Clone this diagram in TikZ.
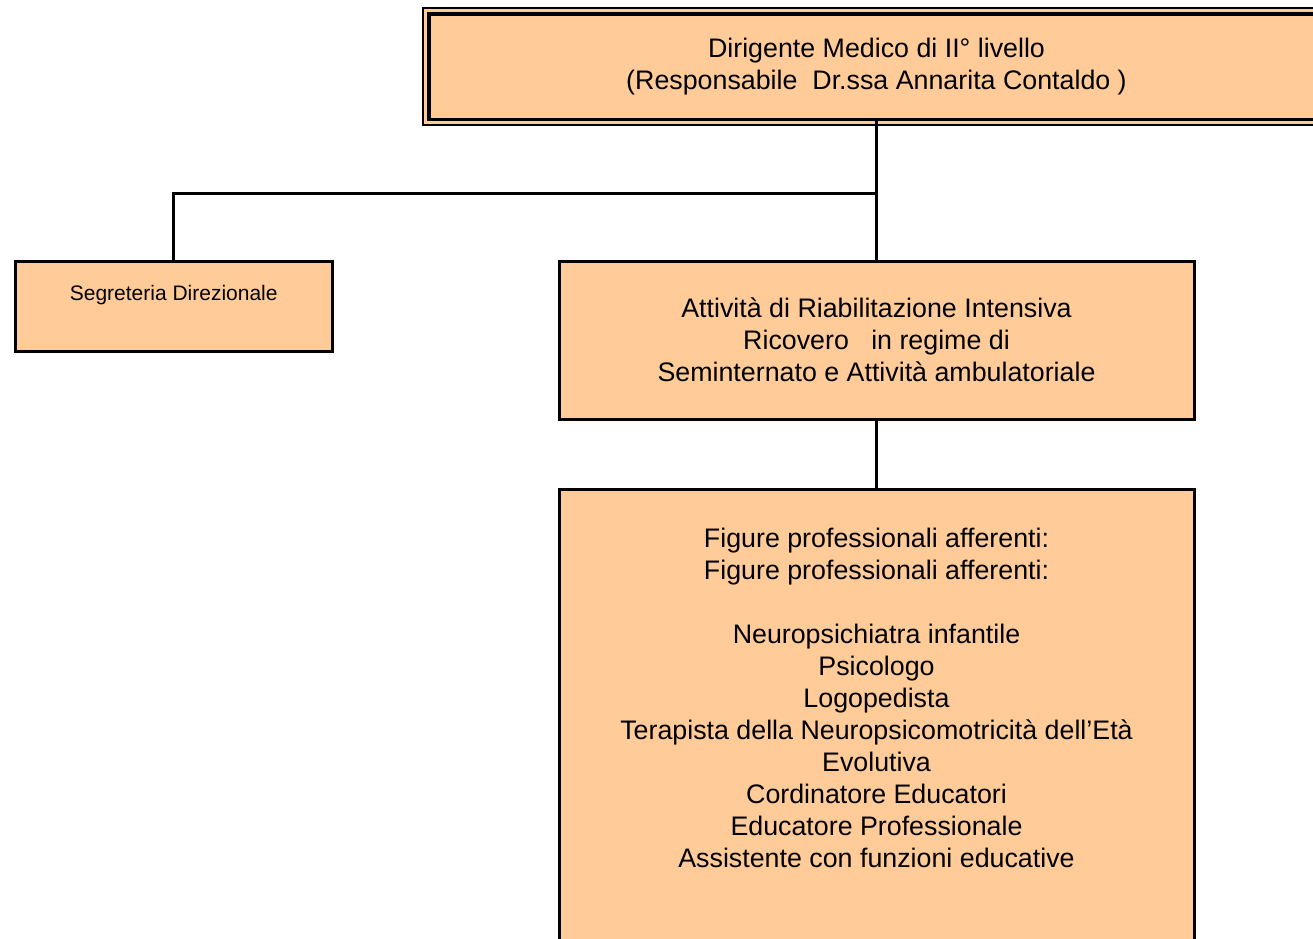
\documentclass[tikz,border=0pt]{standalone}
\usepackage{fontspec}
\setmainfont{Liberation Sans}
\usepackage{xcolor}
\usepackage{tikz}
\usetikzlibrary{positioning}
\definecolor{peach}{HTML}{FFCC99}

\begin{document}
\begin{tikzpicture}[x=1pt,y=-1pt,
    box/.style={draw,fill=peach,line width=3pt,inner sep=0pt,align=center,
        font=\fontsize{26.8}{32}\selectfont},
    frame/.style={draw,fill=peach,line width=2pt,inner sep=0pt},
    link/.style={line width=3pt}]
    \clip (0,0) rectangle (1313,938);

    % Head of the unit
    \node[frame, minimum width=907pt, minimum height=117pt] (headframe) at (876.5,66) {};
    \node[box, line width=3.5pt, minimum width=895pt, minimum height=105.5pt] (head)
        at ([shift={(0,0.5)}]headframe.center)
        {\raisebox{-2pt}{Dirigente Medico di II° livello}\\\raisebox{-2pt}{(Responsabile\ \ Dr.ssa Annarita Contaldo )}};

    % Staff office
    \node[box, font=\fontsize{21}{25}\selectfont, minimum width=317.5pt, minimum height=90.5pt,
        text height=15pt, text depth=27pt] (seg) at (173.75,306.25) {Segreteria Direzionale};

    % Activities
    \node[box, minimum width=635pt, minimum height=158pt] (att) at (876.5,340)
        {Attività di Riabilitazione Intensiva\\Ricovero\ \ \ in regime di\\Seminternato e Attività ambulatoriale};

    % Staff roles
    \node[box, anchor=north, minimum width=635pt, minimum height=520pt] (fig) at (876.5,488) {};
    \node[anchor=north, align=center, inner sep=0pt, font=\fontsize{26.8}{32}\selectfont] (figtext)
        at ([shift={(0,40)}]fig.north)
        {Figure professionali afferenti:\\Figure professionali afferenti:\\[32pt]
         Neuropsichiatra infantile\\Psicologo\\Logopedista\\
         Terapista della Neuropsicomotricità dell’Età\\Evolutiva\\
         Cordinatore Educatori\\Educatore Professionale\\Assistente con funzioni educative};

    % Links
    \coordinate (fork) at (876.5,193);
    \draw[link] (head.south) -- (att.north);
    \draw[link] (seg.north) |- (fork);
    \draw[link] (att.south) -- (fig.north);
\end{tikzpicture}
\end{document}
